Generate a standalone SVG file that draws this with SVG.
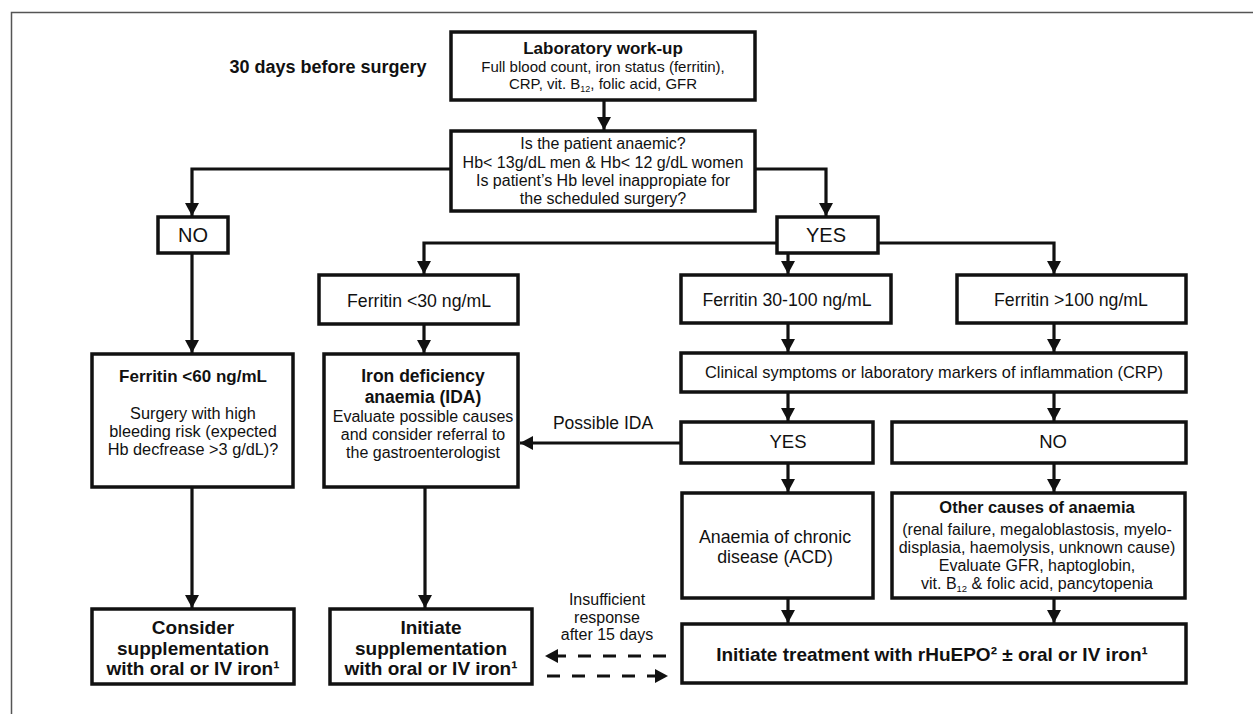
<svg xmlns="http://www.w3.org/2000/svg" width="1253" height="714" viewBox="0 0 1253 714">
<defs>
<style>
text{font-family:"Liberation Sans",Arial,sans-serif;fill:#111;text-anchor:middle}
.b{font-weight:bold}
.box{fill:#fff;stroke:#111;stroke-width:3.5}
.ln{fill:none;stroke:#111;stroke-width:3.2}
.dash{fill:none;stroke:#111;stroke-width:3.2;stroke-dasharray:13 12}
</style>
<marker id="ah" markerUnits="userSpaceOnUse" markerWidth="14" markerHeight="14" refX="13" refY="7" orient="auto">
<path d="M0,0 L13,7 L0,14 z" fill="#111"/>
</marker>
</defs>
<rect width="1253" height="714" fill="#fff"/>
<path d="M11.5,714 V12.5 H1253" fill="none" stroke="#555" stroke-width="1.5"/>

<text class="b" x="328" y="73" font-size="18">30 days before surgery</text>

<g id="connectors">
<path class="ln" d="M604,101 V130" marker-end="url(#ah)"/>
<path class="ln" d="M451,169 H192 V216" marker-end="url(#ah)"/>
<path class="ln" d="M755,169 H826 V216" marker-end="url(#ah)"/>
<path class="ln" d="M777,243 H424 V274" marker-end="url(#ah)"/>
<path class="ln" d="M878,243 H1054 V274" marker-end="url(#ah)"/>
<path class="ln" d="M788,254 V274" marker-end="url(#ah)"/>
<path class="ln" d="M192,254 V353" marker-end="url(#ah)"/>
<path class="ln" d="M424,325 V353" marker-end="url(#ah)"/>
<path class="ln" d="M788,324 V352" marker-end="url(#ah)"/>
<path class="ln" d="M1054,324 V352" marker-end="url(#ah)"/>
<path class="ln" d="M788,393 V421" marker-end="url(#ah)"/>
<path class="ln" d="M1054,393 V421" marker-end="url(#ah)"/>
<path class="ln" d="M681,443 H520" marker-end="url(#ah)"/>
<path class="ln" d="M788,464 V492" marker-end="url(#ah)"/>
<path class="ln" d="M1054,464 V492" marker-end="url(#ah)"/>
<path class="ln" d="M788,599 V623" marker-end="url(#ah)"/>
<path class="ln" d="M1054,599 V623" marker-end="url(#ah)"/>
<path class="ln" d="M192,488 V608" marker-end="url(#ah)"/>
<path class="ln" d="M425,488 V608" marker-end="url(#ah)"/>
<path class="dash" d="M666,656 H545" marker-end="url(#ah)"/>
<path class="dash" d="M547,676 H668" marker-end="url(#ah)"/>
</g>

<g id="lab">
<rect class="box" x="451" y="32" width="304" height="68"/>
<text class="b" x="603" y="54" font-size="17">Laboratory work-up</text>
<text x="603" y="72" font-size="15">Full blood count, iron status (ferritin),</text>
<text x="603" y="89" font-size="15">CRP, vit. B<tspan font-size="9" dy="3">12</tspan><tspan dy="-3">, folic acid, GFR</tspan></text>
</g>

<g id="anaemic">
<rect class="box" x="451" y="131" width="304" height="80"/>
<text x="603" y="149" font-size="16">Is the patient anaemic?</text>
<text x="603" y="168" font-size="16">Hb&lt; 13g/dL men &amp; Hb&lt; 12 g/dL women</text>
<text x="603" y="186" font-size="16">Is patient’s Hb level inappropiate for</text>
<text x="603" y="204" font-size="16">the scheduled surgery?</text>
</g>

<g id="no1">
<rect class="box" x="158" y="217" width="70" height="36"/>
<text x="193" y="242" font-size="20">NO</text>
</g>

<g id="yes1">
<rect class="box" x="777" y="217" width="101" height="36"/>
<text x="826" y="242" font-size="20">YES</text>
</g>

<g id="ferr30">
<rect class="box" x="319" y="275" width="199" height="49"/>
<text x="419" y="307" font-size="17.7">Ferritin &lt;30 ng/mL</text>
</g>

<g id="ferr30100">
<rect class="box" x="681" y="275" width="210" height="48"/>
<text x="787" y="306" font-size="17.7">Ferritin 30-100 ng/mL</text>
</g>

<g id="ferr100">
<rect class="box" x="957" y="275" width="229" height="48"/>
<text x="1071" y="306" font-size="17.7">Ferritin &gt;100 ng/mL</text>
</g>

<g id="clinical">
<rect class="box" x="681" y="353" width="505" height="39"/>
<text x="934" y="378" font-size="16.4">Clinical symptoms or laboratory markers of inflammation (CRP)</text>
</g>

<g id="yes2">
<rect class="box" x="681" y="422" width="192" height="41"/>
<text x="788" y="448" font-size="18.5">YES</text>
</g>

<g id="no2">
<rect class="box" x="892" y="422" width="294" height="41"/>
<text x="1053" y="448" font-size="18.5">NO</text>
</g>

<text x="603" y="429" font-size="17.5">Possible IDA</text>

<g id="ferr60">
<rect class="box" x="92" y="354" width="201" height="133"/>
<text class="b" x="193" y="382" font-size="17">Ferritin &lt;60 ng/mL</text>
<text x="193" y="419" font-size="16.3">Surgery with high</text>
<text x="193" y="437" font-size="16.3">bleeding risk (expected</text>
<text x="193" y="455" font-size="16.3">Hb decfrease &gt;3 g/dL)?</text>
</g>

<g id="ida">
<rect class="box" x="324" y="354" width="194" height="133"/>
<text class="b" x="423" y="382" font-size="17.5">Iron deficiency</text>
<text class="b" x="423" y="403" font-size="17.5">anaemia (IDA)</text>
<text x="423" y="422" font-size="16">Evaluate possible causes</text>
<text x="423" y="440" font-size="16">and consider referral to</text>
<text x="423" y="458" font-size="16">the gastroenterologist</text>
</g>

<g id="acd">
<rect class="box" x="682" y="493" width="191" height="105"/>
<text x="775" y="543" font-size="17.8">Anaemia of chronic</text>
<text x="775" y="563" font-size="17.8">disease (ACD)</text>
</g>

<g id="other">
<rect class="box" x="892" y="493" width="293" height="105"/>
<text class="b" x="1037" y="513" font-size="16.5">Other causes of anaemia</text>
<text x="1037" y="535" font-size="16">(renal failure, megaloblastosis, myelo-</text>
<text x="1037" y="553" font-size="16">displasia, haemolysis, unknown cause)</text>
<text x="1037" y="571" font-size="16">Evaluate GFR, haptoglobin,</text>
<text x="1037" y="589" font-size="16">vit. B<tspan font-size="9.5" dy="3">12</tspan><tspan dy="-3"> &amp; folic acid, pancytopenia</tspan></text>
</g>

<g id="consider">
<rect class="box" x="92" y="609" width="202" height="75"/>
<text class="b" x="193" y="634" font-size="19">Consider</text>
<text class="b" x="193" y="655" font-size="19">supplementation</text>
<text class="b" x="193" y="675" font-size="19">with oral or IV iron¹</text>
</g>

<g id="initiate">
<rect class="box" x="330" y="609" width="202" height="75"/>
<text class="b" x="431" y="634" font-size="19">Initiate</text>
<text class="b" x="431" y="655" font-size="19">supplementation</text>
<text class="b" x="431" y="675" font-size="19">with oral or IV iron¹</text>
</g>

<g id="insufficient">
<text x="607" y="605" font-size="16">Insufficient</text>
<text x="607" y="622.5" font-size="16">response</text>
<text x="607" y="640" font-size="16">after 15 days</text>
</g>

<g id="treatment">
<rect class="box" x="682" y="624" width="504" height="59"/>
<text class="b" x="932" y="661" font-size="19">Initiate treatment with rHuEPO² ± oral or IV iron¹</text>
</g>
</svg>
